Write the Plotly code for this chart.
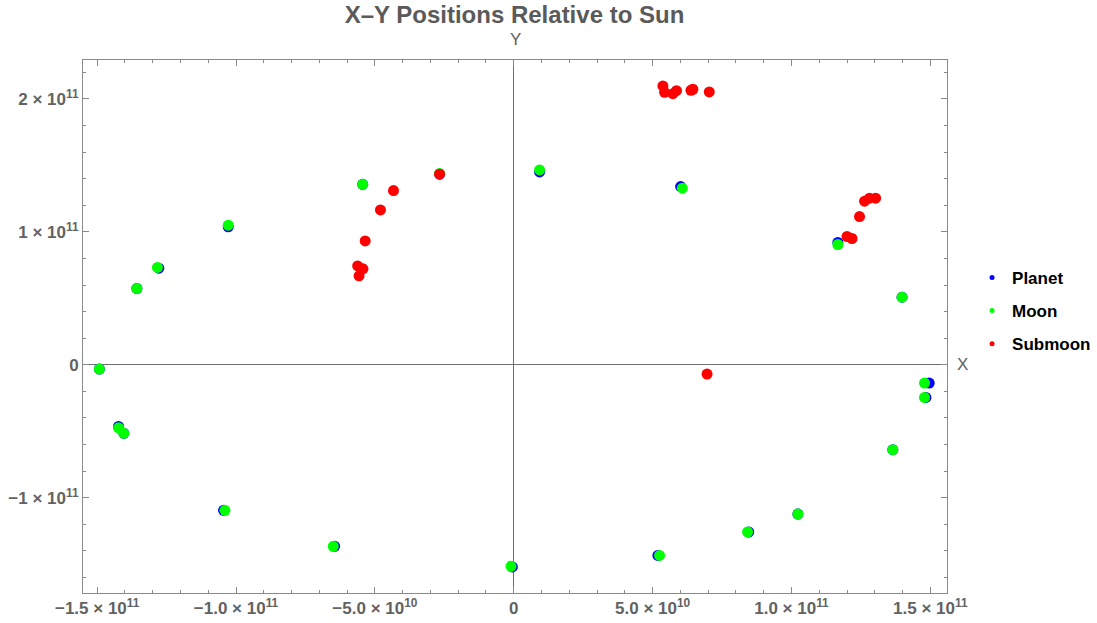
import plotly.graph_objects as go

# Planet positions (x, y in metres)
planet_x = [-1.357e11, -1.278e11, -1.028e11, -5.44e10, -2.67e10, 0.93e10, 6.01e10, 1.167e11,
            1.398e11, 1.496e11, 1.484e11, 1.365e11, 1.023e11, 8.46e10, 5.19e10, -0.05e10,
            -6.45e10, -1.045e11, -1.404e11, -1.423e11, -1.492e11]
planet_y = [0.574e11, 0.727e11, 1.038e11, 1.358e11, 1.434e11, 1.451e11, 1.341e11, 0.920e11,
            0.509e11, -0.138e11, -0.246e11, -0.639e11, -1.123e11, -1.258e11, -1.434e11, -1.521e11,
            -1.366e11, -1.095e11, -0.516e11, -0.464e11, -0.032e11]

# Moon positions
moon_x = [-1.357e11, -1.283e11, -1.028e11, -5.44e10, -2.67e10, 0.93e10, 6.07e10, 1.167e11,
          1.398e11, 1.479e11, 1.479e11, 1.365e11, 1.023e11, 8.42e10, 5.25e10, -0.10e10,
          -6.50e10, -1.040e11, -1.404e11, -1.423e11, -1.492e11]
moon_y = [0.574e11, 0.732e11, 1.050e11, 1.358e11, 1.440e11, 1.466e11, 1.329e11, 0.905e11,
          0.509e11, -0.138e11, -0.246e11, -0.639e11, -1.123e11, -1.258e11, -1.434e11, -1.516e11,
          -1.366e11, -1.095e11, -0.516e11, -0.474e11, -0.032e11]

# Submoon positions
submoon_x = [-4.33e10, -4.80e10, -5.35e10, -5.62e10, -5.43e10, -5.57e10, -2.67e10,
             5.37e10, 5.43e10, 5.73e10, 5.86e10, 6.38e10, 6.45e10, 7.04e10,
             1.200e11, 1.218e11, 1.245e11, 1.263e11, 1.281e11, 1.303e11, 6.96e10]
submoon_y = [1.311e11, 1.165e11, 0.932e11, 0.744e11, 0.722e11, 0.669e11, 1.434e11,
             2.098e11, 2.050e11, 2.040e11, 2.062e11, 2.065e11, 2.073e11, 2.053e11,
             0.965e11, 0.950e11, 1.115e11, 1.231e11, 1.253e11, 1.253e11, -0.070e11]

x_tickvals = [-1.5e11, -1.0e11, -5.0e10, 0, 5.0e10, 1.0e11, 1.5e11]
x_ticktext = ["\u22121.5 \u00d7 10<sup>11</sup>", "\u22121.0 \u00d7 10<sup>11</sup>",
              "\u22125.0 \u00d7 10<sup>10</sup>", "0", "5.0 \u00d7 10<sup>10</sup>",
              "1.0 \u00d7 10<sup>11</sup>", "1.5 \u00d7 10<sup>11</sup>"]
y_tickvals = [-1e11, 0, 1e11, 2e11]
y_ticktext = ["\u22121 \u00d7 10<sup>11</sup>", "0", "1 \u00d7 10<sup>11</sup>",
              "2 \u00d7 10<sup>11</sup>"]

series = [
    ("Planet", planet_x, planet_y, "#0000ff"),
    ("Moon", moon_x, moon_y, "#00ff00"),
    ("Submoon", submoon_x, submoon_y, "#ff0000"),
]

fig = go.Figure()
for name, xs, ys, col in series:
    fig.add_trace(go.Scatter(x=xs, y=ys, mode="markers", name=name, showlegend=False,
                             marker=dict(color=col, size=11, line=dict(width=0))))
for name, xs, ys, col in series:
    fig.add_trace(go.Scatter(x=[None], y=[None], mode="markers", name=name, legendgroup=name,
                             marker=dict(color=col, size=5, line=dict(width=0))))

gray = "#626262"
tickfont = dict(family="Liberation Sans, Arial, sans-serif", size=17, color=gray, weight="bold")
frame = "#8a8a8a"
common = dict(showgrid=False, showline=True, linecolor=frame, linewidth=1, mirror="allticks",
              ticks="inside", ticklen=6, tickcolor=frame, tickwidth=1, tickfont=tickfont,
              zeroline=True, zerolinecolor="#707070", zerolinewidth=1, tickmode="array",
              automargin=False)

fig.update_layout(
    width=1097, height=623,
    margin=dict(l=83, r=150, t=60, b=30, autoexpand=False),
    paper_bgcolor="white", plot_bgcolor="white",
    title=dict(text="<b>X\u2013Y Positions Relative to Sun</b>", x=0.469, xanchor="center",
               y=0.976, yanchor="middle",
               font=dict(family="Liberation Sans, Arial, sans-serif", size=24, color="#5a5a5a")),
    xaxis=dict(range=[-1.551e11, 1.56e11], tickvals=x_tickvals, ticktext=x_ticktext,
               minor=dict(ticks="inside", ticklen=3, tickcolor=frame, dtick=1e10, tick0=0),
               **common),
    yaxis=dict(range=[-1.717e11, 2.293e11], tickvals=y_tickvals, ticktext=y_ticktext,
               minor=dict(ticks="inside", ticklen=3, tickcolor=frame, dtick=2e10, tick0=0),
               **common),
    legend=dict(x=1.029, xanchor="left", y=0.625, yanchor="top",
                font=dict(family="Liberation Sans, Arial, sans-serif", size=17, color="black",
                          weight="bold"),
                tracegroupgap=8, itemwidth=30, bgcolor="rgba(0,0,0,0)"),
    annotations=[
        dict(text="Y", xref="paper", yref="paper", x=0.5, y=1.0, yshift=32, showarrow=False,
             font=dict(family="Liberation Sans, Arial, sans-serif", size=17, color=gray)),
        dict(text="X", xref="paper", yref="y", x=1.0, y=0, xanchor="left", xshift=8,
             showarrow=False,
             font=dict(family="Liberation Sans, Arial, sans-serif", size=17, color=gray)),
    ],
)

fig.write_html("out.html")
